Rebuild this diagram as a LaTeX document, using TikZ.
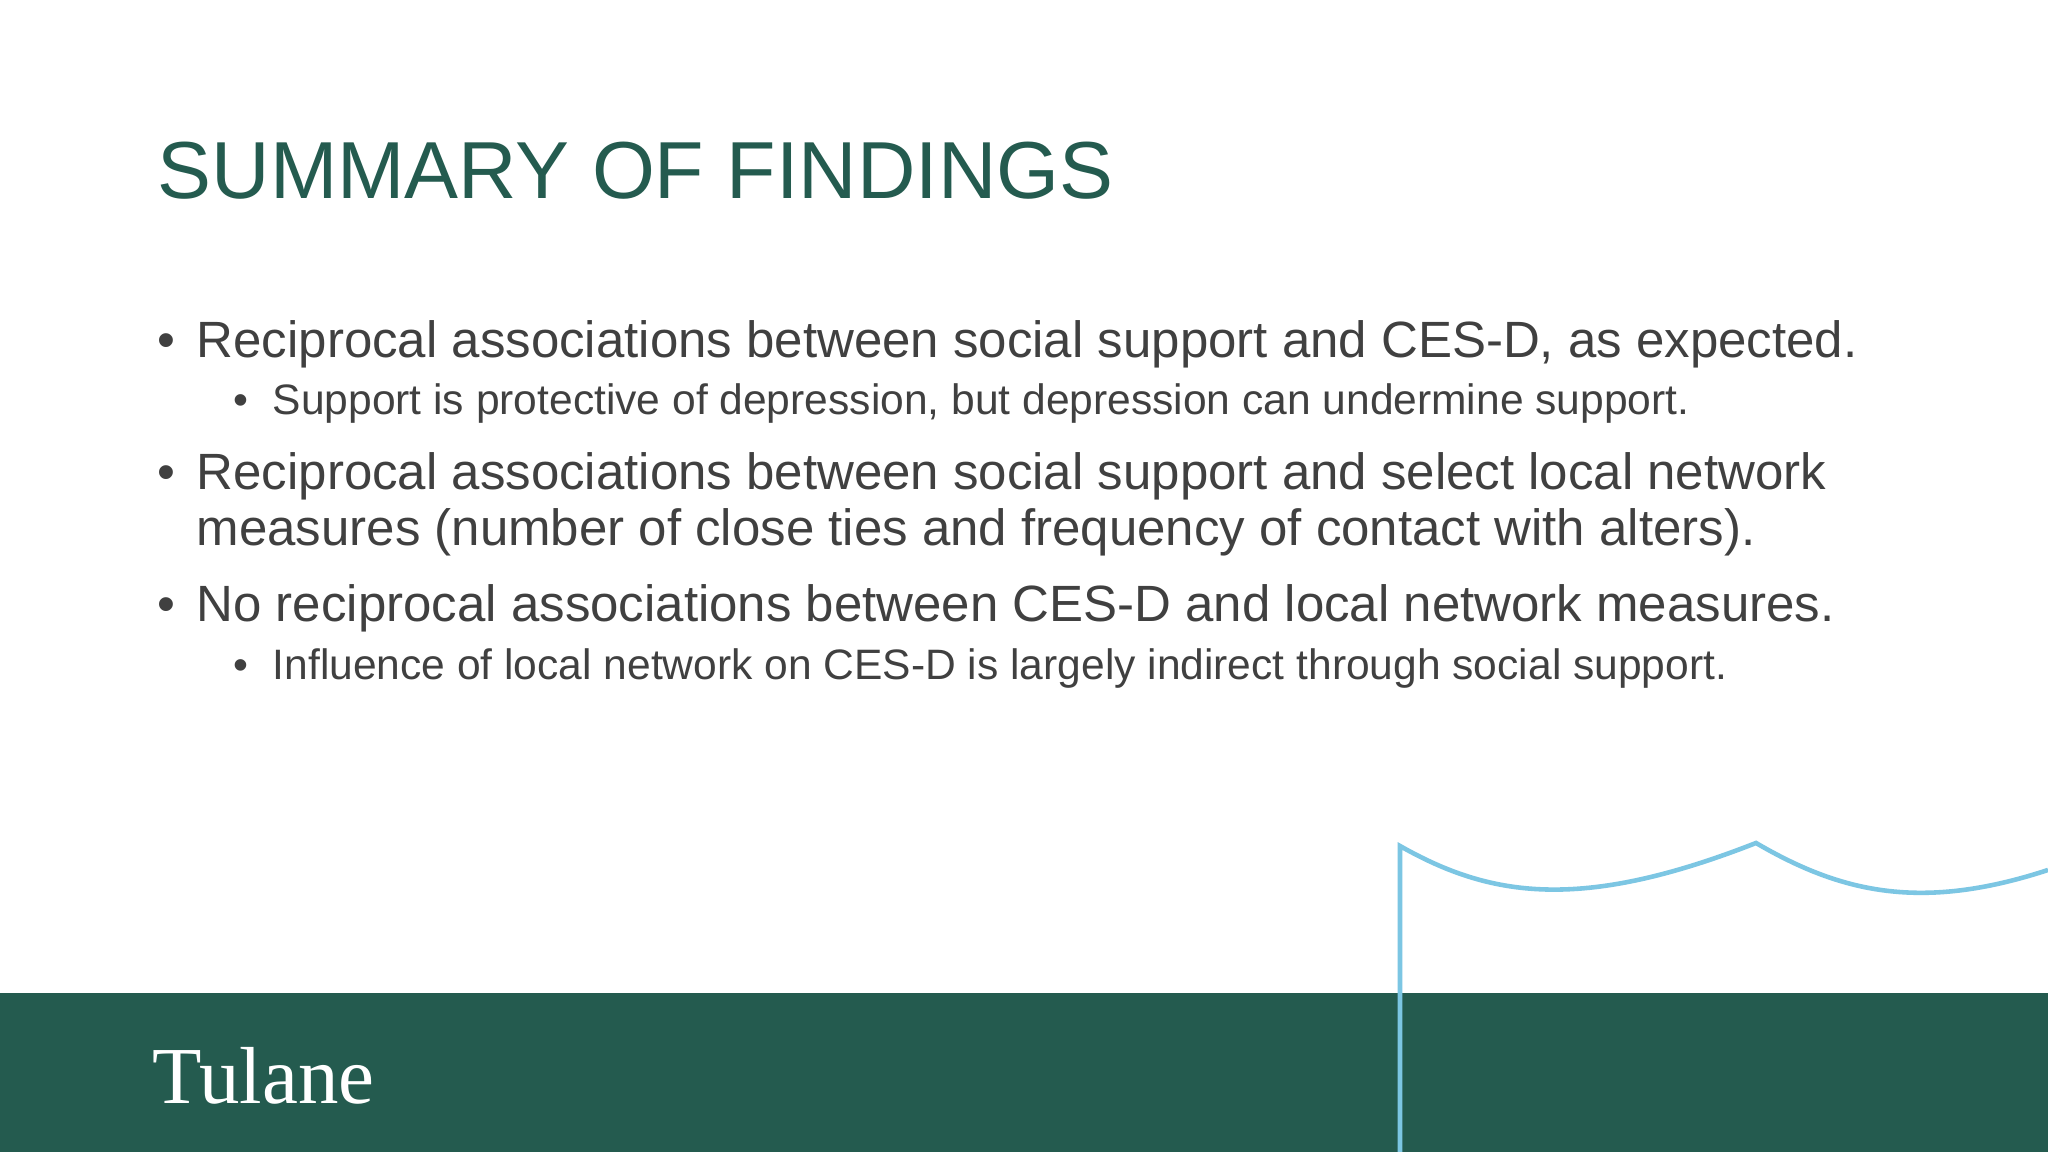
\documentclass[tikz,border=0pt]{standalone}
\usepackage{fontspec}
\setmainfont{Liberation Sans}
\newfontfamily\logofont{Liberation Serif}
\definecolor{tgreen}{HTML}{245B4F}
\definecolor{ttext}{HTML}{404040}
\definecolor{tblue}{HTML}{7CC6E3}
\tikzset{
  title/.style={anchor=base west,inner sep=0,text=tgreen,font=\fontsize{23}{28}\selectfont},
  main/.style={anchor=base west,inner sep=0,text=ttext,font=\fontsize{14.5}{17}\selectfont},
  sub/.style={anchor=base west,inner sep=0,text=ttext,font=\fontsize{12.1}{14}\selectfont},
}
\begin{document}
\begin{tikzpicture}[x=0.01cm,y=0.01cm]
\useasboundingbox (0,0) rectangle (2048,1152);
\fill[white] (0,0) rectangle (2048,1152);
\fill[tgreen] (0,0) rectangle (2048,159);
\node[title] (t) at (157,953) {SUMMARY OF FINDINGS};
\node[main] (b1d) at (157,794) {•};
\node[main] (b1) at (196,794) {Reciprocal associations between social support and CES-D, as expected.};
\node[sub] (s1d) at (233,737) {•};
\node[sub] (s1) at (272,737) {Support is protective of depression, but depression can undermine support.};
\node[main] (b2d) at (157,662) {•};
\node[main] (b2) at (196,662) {Reciprocal associations between social support and select local network};
\node[main] (b2b) at (196,606) {measures (number of close ties and frequency of contact with alters).};
\node[main] (b3d) at (157,530) {•};
\node[main] (b3) at (196,530) {No reciprocal associations between CES-D and local network measures.};
\node[sub] (s3d) at (233,472) {•};
\node[sub] (s3) at (272,472) {Influence of local network on CES-D is largely indirect through social support.};
\node[anchor=base west,inner sep=0,text=white,font=\logofont\fontsize{23}{28}\selectfont] (logo) at (152,48) {Tulane};
\draw[tblue,line width=1.3pt] (1400,0) -- (1400,306)
  .. controls (1490,255) and (1580,240) .. (1756,309)
  .. controls (1840,260) and (1920,240) .. (2048,282);
\end{tikzpicture}
\end{document}
